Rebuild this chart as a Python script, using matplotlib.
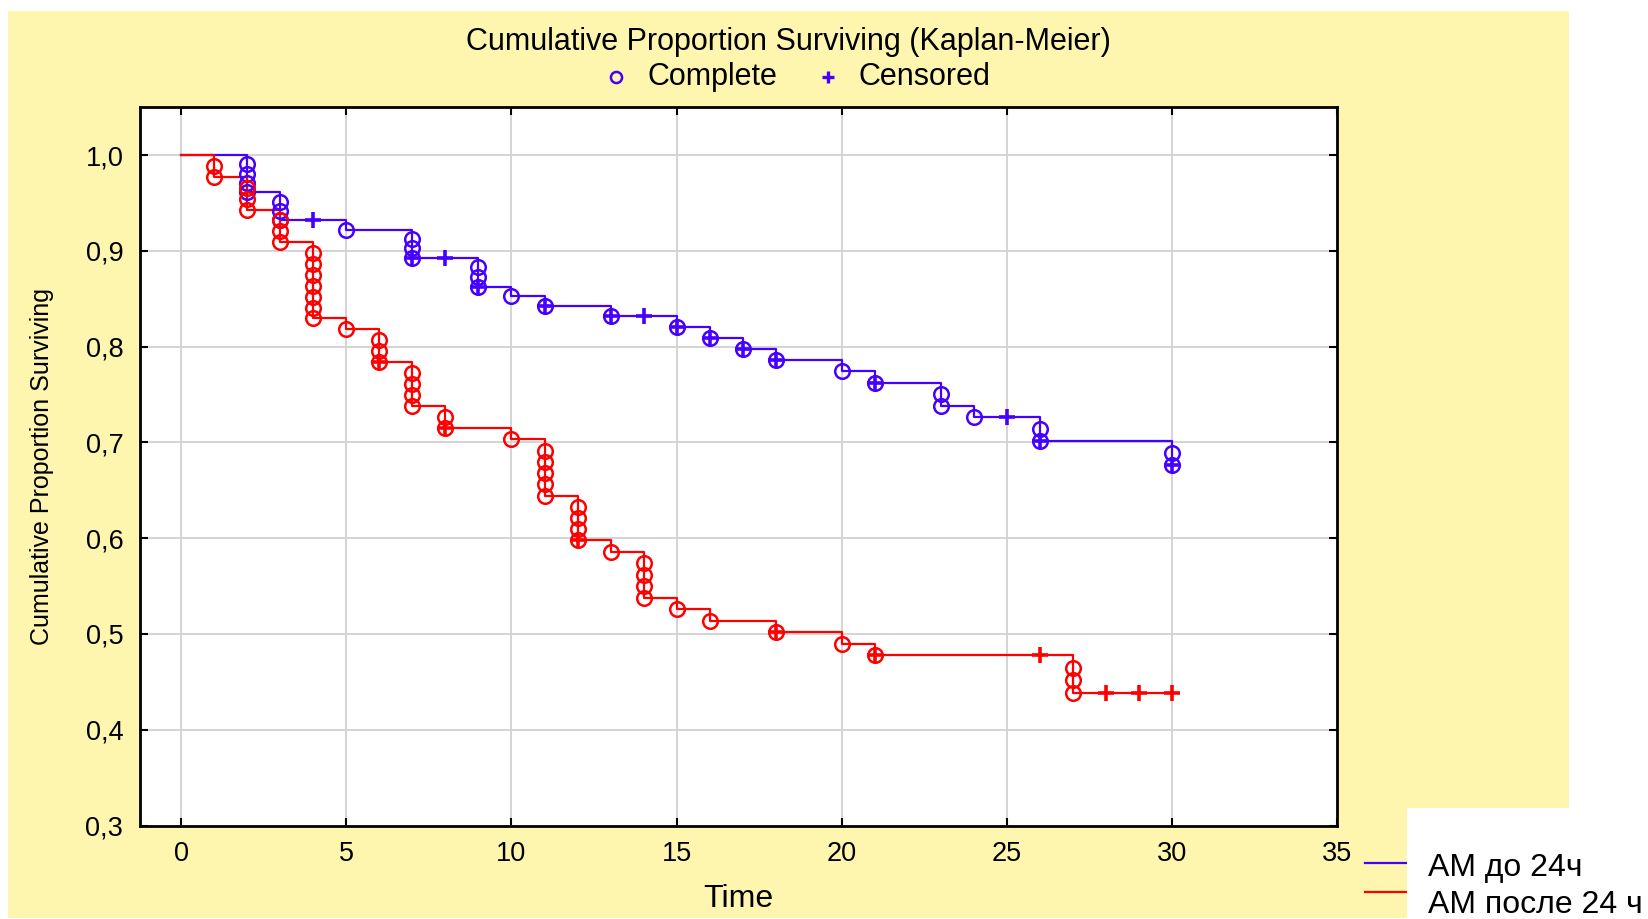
import matplotlib.pyplot as plt
from matplotlib.lines import Line2D
from matplotlib.patches import Rectangle

plt.rcParams['font.family'] = ['Liberation Sans', 'DejaVu Sans']

# event counts (circles = complete, + = censored)
blue_n = 103
blue_times = [2, 3, 5, 7, 9, 10, 11, 13, 15, 16, 17, 18, 20, 21, 23, 24, 26, 30]
blue_deaths = [4, 3, 1, 3, 3, 1, 1, 1, 1, 1, 1, 1, 1, 1, 2, 1, 2, 2]
blue_cens_times = [4, 7, 8, 9, 11, 13, 14, 15, 16, 17, 18, 21, 25, 26, 30]
blue_cens = [1, 1, 1, 1, 5, 1, 1, 1, 1, 1, 2, 1, 1, 1, 54]

red_n = 88
red_times = [1, 2, 3, 4, 5, 6, 7, 8, 10, 11, 12, 13, 14, 15, 16, 18, 20, 21, 27]
red_deaths = [2, 3, 3, 7, 1, 3, 4, 2, 1, 5, 4, 1, 4, 1, 1, 1, 1, 1, 3]
red_cens_times = [6, 8, 12, 18, 21, 26, 28, 29, 30]
red_cens = [1, 1, 1, 1, 1, 1, 1, 1, 32]

series_names = ['АМ до 24ч', 'АМ после 24 ч']
x_ticks = [0, 5, 10, 15, 20, 25, 30, 35]
y_ticks = [0.3, 0.4, 0.5, 0.6, 0.7, 0.8, 0.9, 1.0]
y_labels = ['0,3', '0,4', '0,5', '0,6', '0,7', '0,8', '0,9', '1,0']

BLUE = '#4600FF'
RED = '#FF0000'
W, H = 1649, 919


def kaplan_meier(n, d_times, d_counts, c_times, c_counts):
    dd = dict(zip(d_times, d_counts))
    cc = dict(zip(c_times, c_counts))
    s, at_risk = 1.0, n
    sx, sy = [0], [1.0]
    ox, oy, px, py = [], [], [], []
    for t in sorted(set(d_times) | set(c_times)):
        d = dd.get(t, 0)
        for k in range(1, d + 1):
            ox.append(t)
            oy.append(s * (at_risk - k) / at_risk)
        if d:
            s = s * (at_risk - d) / at_risk
            at_risk -= d
            sx.append(t)
            sy.append(s)
        if t in cc:
            px.append(t)
            py.append(s)
            at_risk -= cc[t]
    last = max(max(d_times), max(c_times))
    if sx[-1] < last:
        sx.append(last)
        sy.append(s)
    return sx, sy, ox, oy, px, py


fig = plt.figure(figsize=(W / 100, H / 100), dpi=100)
fig.patch.set_facecolor('white')
fig.add_artist(Rectangle((8 / W, 1 / H), 1561 / W, 907 / H, transform=fig.transFigure,
                         facecolor='#FEF6AE', edgecolor='none', zorder=-5))

ax = fig.add_axes([140 / W, 1 - 825.5 / H, 1197 / W, 718.2 / H])
ax.set_facecolor('white')

for n, tt, dc, ct, cc, col in [(blue_n, blue_times, blue_deaths, blue_cens_times, blue_cens, BLUE),
                               (red_n, red_times, red_deaths, red_cens_times, red_cens, RED)]:
    sx, sy, ox, oy, px, py = kaplan_meier(n, tt, dc, ct, cc)
    ax.step(sx, sy, where='post', color=col, lw=1.6, zorder=3)
    ax.plot(ox, oy, ls='none', marker='o', ms=10.5, mfc='none', mec=col, mew=1.8, zorder=4)
    ax.plot(px, py, ls='none', marker='+', ms=11, mec=col, mew=2.6, zorder=4)

ax.set_xlim(-1.25, 35)
ax.set_ylim(0.3, 1.05)
ax.set_xticks(x_ticks)
ax.set_yticks(y_ticks)
ax.set_yticklabels(y_labels)
ax.grid(True, color='#d4d4d4', lw=1.4)
ax.set_axisbelow(True)
for sp in ax.spines.values():
    sp.set_linewidth(2)
    sp.set_color('black')
ax.tick_params(direction='in', length=6, width=1.5, top=True, right=True, labelsize=19.5)
ax.tick_params(axis='x', pad=11)
ax.tick_params(axis='y', pad=12)

ax.set_xlabel('Time', fontsize=23)
ax.xaxis.set_label_coords(0.5, -0.082)
ax.set_ylabel('Cumulative Proportion Surviving', fontsize=18)
ax.yaxis.set_label_coords(-0.072, 0.5)

fig.text(788 / W, 1 - 42 / H, 'Cumulative Proportion Surviving (Kaplan-Meier)',
         ha='center', va='center', fontsize=22)

# marker key under the title
fig.add_artist(Line2D([616 / W], [1 - 77 / H], marker='o', ms=8, mfc='none', mec=BLUE, mew=1.8,
                      transform=fig.transFigure))
fig.text(648 / W, 1 - 77 / H, 'Complete', ha='left', va='center', fontsize=22)
fig.add_artist(Line2D([828 / W], [1 - 77 / H], marker='+', ms=9, mec=BLUE, mew=2.4,
                      transform=fig.transFigure))
fig.text(859 / W, 1 - 77 / H, 'Censored', ha='left', va='center', fontsize=22)

# series key bottom right
fig.add_artist(Rectangle((1407 / W, 0), 242 / W, 111 / H, transform=fig.transFigure,
                         facecolor='white', edgecolor='none', zorder=5))
for yy, col in [(863, BLUE), (892, RED)]:
    fig.add_artist(Line2D([1365 / W, 1407 / W], [1 - yy / H] * 2, color=col, lw=1.6,
                          transform=fig.transFigure))
for yy, name in [(868, series_names[0]), (905, series_names[1])]:
    fig.text(1428 / W, 1 - yy / H, name, ha='left', va='center', fontsize=23, zorder=6)

fig.savefig('out.png', dpi=100)
